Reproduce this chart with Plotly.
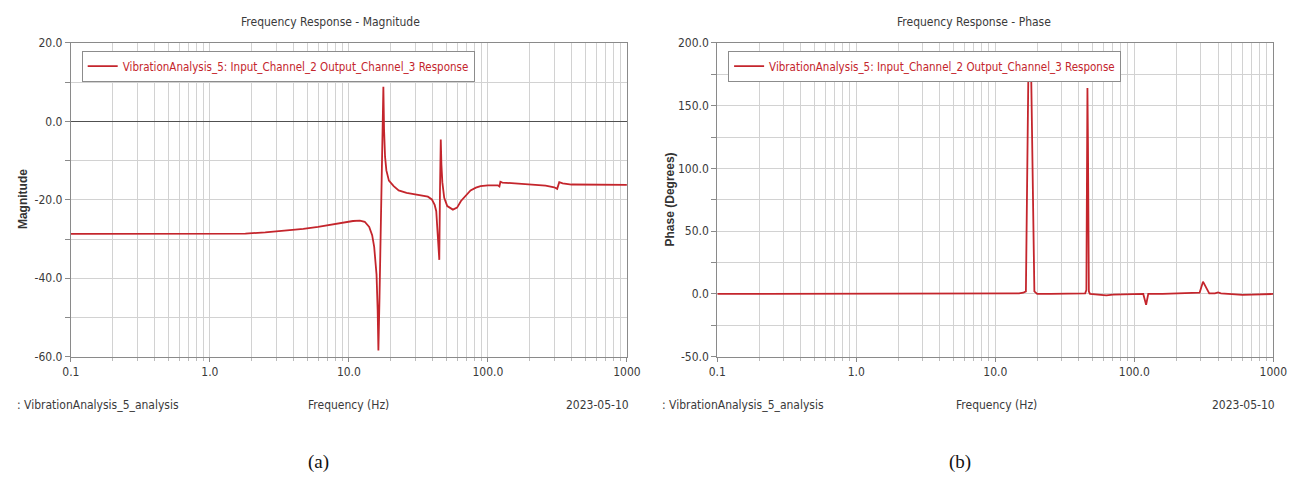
import plotly.graph_objects as go

W, H = 1305, 489

# ---------------- data ----------------
series_name = "VibrationAnalysis_5: Input_Channel_2 Output_Channel_3 Response"

mag_freq = [0.1, 0.2, 0.5, 1.0, 1.8, 2.5, 3.5, 4.7, 6.0, 7.5, 9.0, 10.7, 12.0,
            13.0, 14.0, 14.7, 15.2, 15.8, 16.1, 16.3, 16.6, 16.9, 17.2, 17.5,
            17.7, 17.9, 18.2, 18.6, 19.4, 21.0, 22.8, 26.0, 30.0, 34.0, 37.0,
            39.5, 41.4, 42.5, 43.7, 44.7, 45.2, 45.8, 46.3, 47.0, 48.5, 51.0,
            56.0, 60.0, 64.0, 70.0, 75.0, 82.0, 88.5, 100.0, 110.0, 118.0,
            121.0, 123.0, 127.0, 150.0, 200.0, 260.0, 300.0, 315.0, 326.0,
            345.0, 400.0, 600.0, 1000.0]
mag_db = [-28.7, -28.7, -28.7, -28.7, -28.6, -28.3, -27.9, -27.4, -26.9, -26.3,
          -25.9, -25.4, -25.3, -25.6, -26.9, -29.0, -32.0, -39.0, -48.0, -58.4,
          -45.0, -27.0, -8.0, 2.0, 8.8, -2.0, -9.0, -12.5, -15.1, -16.5, -17.6,
          -18.2, -18.6, -18.9, -19.2, -19.9, -21.3, -22.9, -28.6, -35.3, -18.0,
          -4.6, -11.0, -15.5, -19.5, -21.6, -22.5, -22.0, -20.3, -18.8, -17.6,
          -16.9, -16.5, -16.3, -16.2, -16.3, -16.6, -15.4, -15.6, -15.8, -16.1,
          -16.4, -16.8, -17.2, -15.5, -15.8, -16.1, -16.2, -16.2]

ph_freq = [0.1, 0.5, 1.0, 5.0, 10.0, 13.0, 14.8, 15.9, 16.6, 17.3, 18.1, 19.1,
           20.0, 25.0, 35.0, 44.3, 45.2, 46.0, 46.4, 47.1, 48.0, 55.0, 63.0,
           70.0, 90.0, 110.0, 116.0, 121.6, 126.0, 160.0, 220.0, 260.0, 295.0,
           312.0, 346.0, 380.0, 400.0, 420.0, 500.0, 600.0, 700.0, 1000.0]
ph_deg = [0.0, 0.0, 0.0, 0.0, 0.0, 0.0, 0.5, 1.0, 2.0, 178.0, 178.0, 2.0,
          0.0, 0.0, 0.0, 0.5, 3.0, 164.0, 120.0, 2.0, 0.0, -0.5, -1.2,
          -0.5, 0.0, 0.0, 0.0, -8.7, 0.0, 0.0, 0.5, 1.0, 1.0,
          9.8, 0.5, 0.5, 1.2, 0.5, 0.0, -0.8, -0.5, 0.0]

x_tickvals = [0.1, 1, 10, 100, 1000]
x_ticktext = ["0.1", "1.0", "10.0", "100.0", "1000"]
mag_tickvals = [-60, -40, -20, 0, 20]
mag_ticktext = ["-60.0", "-40.0", "-20.0", "0.0", "20.0"]
ph_tickvals = [-50, 0, 50, 100, 150, 200]
ph_ticktext = ["-50.0", "0.0", "50.0", "100.0", "150.0", "200.0"]

titles = ["Frequency Response - Magnitude", "Frequency Response - Phase"]
y_titles = ["Magnitude", "Phase (Degrees)"]
footer_left = ": VibrationAnalysis_5_analysis"
footer_mid = "Frequency (Hz)"
footer_right = "2023-05-10"
captions = ["(a)", "(b)"]

# ---------------- styling ----------------
NARROW = "Liberation Sans Narrow, DejaVu Sans Condensed, Arial Narrow, sans-serif"
FS = 12
LINE_RED = "#c4252c"
TXT = "#3a3a3a"
GRID = "#d2d2d2"
AX = "#8a8a8a"

minor_x = [k * 10.0 ** e for e in range(-1, 3) for k in range(2, 10)]


def px_x(p):
    return p / W


def px_y(p):
    return 1 - p / H


# plot rectangles in pixels
L1 = (63, 629)
L2 = (721, 1287)
TOP, BOT = 37, 360

fig = go.Figure()
fig.add_trace(go.Scatter(x=mag_freq, y=mag_db, mode="lines", name=series_name,
                         line=dict(color=LINE_RED, width=1.8),
                         xaxis="x", yaxis="y", legend="legend"))
fig.add_trace(go.Scatter(x=ph_freq, y=ph_deg, mode="lines", name=series_name,
                         line=dict(color=LINE_RED, width=1.8),
                         xaxis="x2", yaxis="y2", legend="legend2"))


def xaxis_cfg(dom, anchor):
    return dict(type="log", domain=[px_x(dom[0]), px_x(dom[1])], anchor=anchor,
                range=[-1, 3], tickvals=x_tickvals, ticktext=x_ticktext,
                showgrid=True, gridcolor=GRID, gridwidth=1,
                showline=True, linecolor=AX, linewidth=1, mirror=True,
                ticks="outside", ticklen=4, tickcolor=AX,
                tickfont=dict(family=NARROW, size=FS, color=TXT),
                minor=dict(tickvals=minor_x, showgrid=True, gridcolor=GRID,
                           gridwidth=1, ticks="outside", ticklen=3, tickcolor="#bbbbbb"),
                zeroline=False, fixedrange=True)


def yaxis_cfg(anchor, rng, tv, tt, dmin, zl):
    return dict(domain=[px_y(BOT), px_y(TOP)], anchor=anchor, range=rng,
                tickvals=tv, ticktext=tt, showgrid=True, gridcolor=GRID,
                showline=True, linecolor=AX, linewidth=1, mirror=True,
                ticks="outside", ticklen=5, tickcolor=AX,
                tickfont=dict(family=NARROW, size=FS, color=TXT),
                minor=dict(dtick=dmin, tick0=0, showgrid=True, gridcolor=GRID,
                           ticks="outside", ticklen=5, tickcolor=AX),
                zeroline=zl, zerolinecolor="#505050", zerolinewidth=1.2,
                fixedrange=True)


legend_common = dict(bgcolor="white", bordercolor="#8c8c8c", borderwidth=1,
                     font=dict(family=NARROW, size=11.5, color=LINE_RED),
                     xanchor="left", yanchor="top", itemwidth=30)

fig.update_layout(
    width=W, height=H, margin=dict(l=0, r=0, t=0, b=0),
    paper_bgcolor="white", plot_bgcolor="white",
    xaxis=xaxis_cfg(L1, "y"),
    yaxis=yaxis_cfg("x", [-60, 20], mag_tickvals, mag_ticktext, 10, True),
    xaxis2=xaxis_cfg(L2, "y2"),
    yaxis2=yaxis_cfg("x2", [-50, 200], ph_tickvals, ph_ticktext, 25, False),
    legend=dict(x=px_x(74), y=px_y(45), **legend_common),
    legend2=dict(x=px_x(732), y=px_y(45), **legend_common),
    showlegend=True,
)


def note(text, x, y, xanchor="center", yanchor="middle", font=None, angle=0):
    return dict(text=text, x=px_x(x), y=px_y(y), xref="paper", yref="paper",
                xanchor=xanchor, yanchor=yanchor, showarrow=False, textangle=angle,
                font=font or dict(family=NARROW, size=FS, color=TXT))


ann = []
for i, (l, r) in enumerate([L1, L2]):
    ann.append(note(titles[i], [327, 982][i], 15))
    ann.append(note(footer_left, [6, 663][i], 410, xanchor="left"))
    ann.append(note(footer_mid, [346, 1005][i], 410))
    ann.append(note(footer_right, [633, 1291][i], 410, xanchor="right"))
    ann.append(note(captions[i], [315, 968][i], 468,
                    font=dict(family="Liberation Serif, Times New Roman, serif",
                              size=19, color="#111")))
    ann.append(note("<b>" + y_titles[i] + "</b>", [15, 673][i], 198, angle=-90,
                    font=dict(family="Liberation Sans, Arial, sans-serif",
                              size=12, color="#333")))
fig.update_layout(annotations=ann)

fig.write_html("out.html")
